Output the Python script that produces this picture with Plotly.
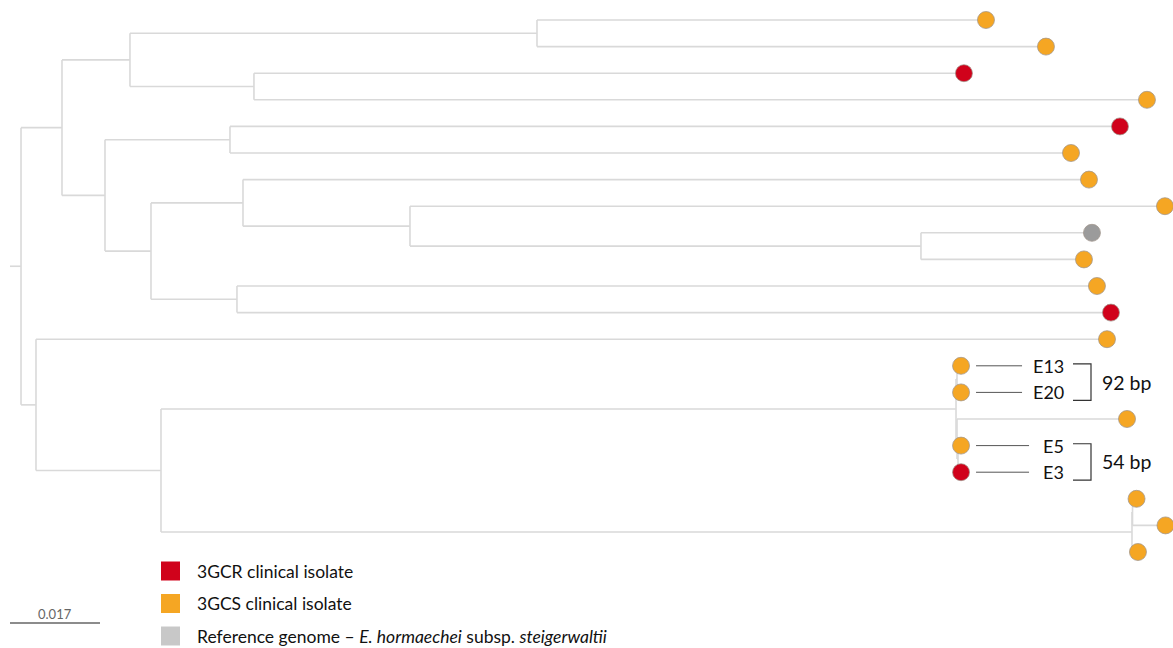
import plotly.graph_objects as go

# ---- tree data: node, parent, branch length (substitutions/site) ----
node_names = [
    "root", "n1", "n2", "n3", "t01", "t02", "n4", "t03", "t04",
    "n5", "n6", "t05", "t06", "n7", "n8", "t07", "n9", "t08", "n10", "t09", "t10",
    "n11", "t11", "t12",
    "n12", "t13", "n13", "n14", "n15", "E13", "E20", "n16", "t16", "n17", "E5", "E3",
    "n18", "n19", "t19", "t20", "t21",
]
node_parents = [
    None, "root", "n1", "n2", "n3", "n3", "n2", "n4", "n4",
    "n1", "n5", "n6", "n6", "n5", "n7", "n8", "n8", "n9", "n9", "n10", "n10",
    "n7", "n11", "n11",
    "root", "n12", "n12", "n13", "n14", "n15", "n15", "n14", "n16", "n16", "n17", "n17",
    "n13", "n18", "n19", "n19", "n18",
]
branch_lengths = [
    0.00208, 0.00774, 0.01284, 0.07688, 0.08481, 0.09614, 0.02342, 0.13411, 0.16868,
    0.00812, 0.02361, 0.16811, 0.15886, 0.00869, 0.01738, 0.15980, 0.03154, 0.14261, 0.09652, 0.03230, 0.03079,
    0.01624, 0.16244, 0.16509,
    0.00283, 0.20230, 0.02361, 0.15017, 0.00019, 0.00076, 0.00076, 0.00019, 0.03211, 0.00019, 0.00057, 0.00057,
    0.18341, 0.00010, 0.00076, 0.00623, 0.00113,
]
# isolate category of each tip (R = 3GCR, S = 3GCS, Ref = reference genome)
tip_category = {
    "t01": "S", "t02": "S", "t03": "R", "t04": "S", "t05": "R", "t06": "S",
    "t07": "S", "t08": "S", "t09": "Ref", "t10": "S", "t11": "S", "t12": "R",
    "t13": "S", "E13": "S", "E20": "S", "t16": "S", "E5": "S", "E3": "R",
    "t19": "S", "t20": "S", "t21": "S",
}
legend_labels = [
    "3GCR clinical isolate",
    "3GCS clinical isolate",
    "Reference genome \u2013 <i>E. hormaechei</i> subsp. <i>steigerwaltii</i>",
]
scale_value = 0.017

# labelled isolate pairs and their SNP distances
pair_labels = [("E13", "E20", "92 bp"), ("E5", "E3", "54 bp")]

colors = {"R": "#D0021B", "S": "#F5A623", "Ref": "#9B9B9B"}
legend_colors = ["#D0021B", "#F5A623", "#C8C8C8"]

# ---- layout of the tree ----
W, H = 1173, 648
px_per_unit = 90 / scale_value          # horizontal pixels per substitution/site
x_origin_px = 10
tip_top_px, tip_step_px = 20, 26.6

children = {n: [] for n in node_names}
length = dict(zip(node_names, branch_lengths))
for n, p in zip(node_names, node_parents):
    if p is not None:
        children[p].append(n)

xpos, ypos = {}, {}
tip_order = []


def place(n, base):
    xpos[n] = base + length[n]
    if not children[n]:
        ypos[n] = len(tip_order)
        tip_order.append(n)
    else:
        for c in children[n]:
            place(c, xpos[n])
        ypos[n] = (ypos[children[n][0]] + ypos[children[n][-1]]) / 2


place("root", 0.0)

x_range = [-x_origin_px / px_per_unit, (W - x_origin_px) / px_per_unit]
y_range = [(H - tip_top_px) / tip_step_px, -tip_top_px / tip_step_px]


def px2x(px):
    return (px - x_origin_px) / px_per_unit


# elbow edges
ex, ey = [], []
ex += [0, xpos["root"], None]
ey += [ypos["root"], ypos["root"], None]
for n in node_names:
    kids = children[n]
    if kids:
        ex += [xpos[n], xpos[n], None]
        ey += [ypos[kids[0]], ypos[kids[-1]], None]
        for c in kids:
            ex += [xpos[n], xpos[c], None]
            ey += [ypos[c], ypos[c], None]

fig = go.Figure()
fig.add_trace(go.Scatter(x=ex, y=ey, mode="lines",
                         line=dict(color="#D9D9D9", width=1.6),
                         hoverinfo="skip", showlegend=False))

fig.add_trace(go.Scatter(
    x=[xpos[t] for t in tip_order],
    y=[ypos[t] for t in tip_order],
    mode="markers",
    marker=dict(size=17, color=[colors[tip_category[t]] for t in tip_order],
                line=dict(color="rgba(160,150,140,0.75)", width=1)),
    text=tip_order, hoverinfo="text", showlegend=False))

shapes = []
annotations = []
font_main = "Lato, 'Open Sans', sans-serif"

# pair labels with connector lines and brackets
for a, b, dist in pair_labels:
    for name in (a, b):
        y = ypos[name]
        x0 = xpos[name] + 15 / px_per_unit
        x1 = x0 + (46 if len(name) == 3 else 53) / px_per_unit
        shapes.append(dict(type="line", xref="x", yref="y", x0=x0, x1=x1, y0=y, y1=y,
                           line=dict(color="#555555", width=1)))
        annotations.append(dict(x=px2x(1066), y=y, xref="x", yref="y", text=name,
                                showarrow=False, xanchor="right",
                                font=dict(family=font_main, size=18, color="#111")))
    ya, yb = ypos[a] - 0.07, ypos[b] + 0.3
    xl, xr = px2x(1073), px2x(1091)
    shapes.append(dict(type="path", xref="x", yref="y",
                       path=f"M {xl},{ya} L {xr},{ya} L {xr},{yb} L {xl},{yb}",
                       line=dict(color="#333333", width=1.2)))
    annotations.append(dict(x=px2x(1100), y=(ya + yb) / 2, xref="x", yref="y", text=dist,
                            showarrow=False, xanchor="left",
                            font=dict(family=font_main, size=19.5, color="#111")))

# legend: colour swatches with labels
for i, (col, label) in enumerate(zip(legend_colors, legend_labels)):
    cy = 571 + i * 32.5
    shapes.append(dict(type="rect", xref="paper", yref="paper",
                       x0=161 / W, x1=180 / W, y0=1 - (cy - 9.5) / H, y1=1 - (cy + 9.5) / H,
                       fillcolor=col, line=dict(width=0)))
    annotations.append(dict(x=195 / W, y=1 - cy / H, xref="paper", yref="paper", text=label,
                            showarrow=False, xanchor="left", yanchor="middle",
                            font=dict(family=font_main, size=17.5, color="#111")))

# scale bar
shapes.append(dict(type="line", xref="x", yref="paper", x0=0, x1=scale_value,
                   y0=1 - 623 / H, y1=1 - 623 / H, line=dict(color="#8C8C8C", width=2)))
annotations.append(dict(x=scale_value / 2, y=1 - 614 / H, xref="x", yref="paper",
                        text=f"{scale_value}", showarrow=False, yanchor="middle",
                        font=dict(family=font_main, size=13, color="#666")))

fig.update_layout(
    width=W, height=H,
    margin=dict(l=0, r=0, t=0, b=0),
    paper_bgcolor="white", plot_bgcolor="white",
    xaxis=dict(range=x_range, visible=False, fixedrange=True),
    yaxis=dict(range=y_range, visible=False, fixedrange=True),
    shapes=shapes, annotations=annotations,
    showlegend=False,
)

fig.write_html("out.html")
